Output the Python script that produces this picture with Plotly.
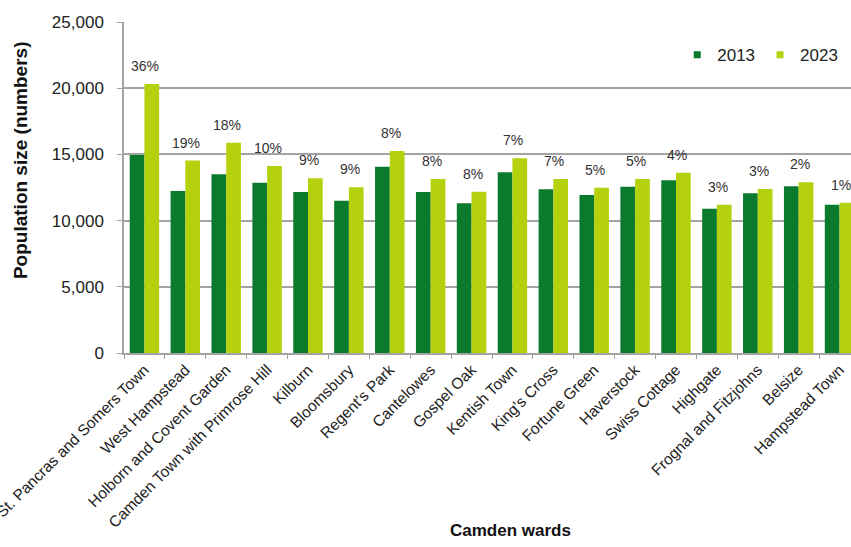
import plotly.graph_objects as go

wards = ["St. Pancras and Somers Town", "West Hampstead", "Holborn and Covent Garden",
         "Camden Town with Primrose Hill", "Kilburn", "Bloomsbury", "Regent's Park",
         "Cantelowes", "Gospel Oak", "Kentish Town", "King's Cross", "Fortune Green",
         "Haverstock", "Swiss Cottage", "Highgate", "Frognal and Fitzjohns", "Belsize",
         "Hampstead Town"]
pop_2013 = [14950, 12240, 13500, 12860, 12160, 11500, 14070, 12160, 11310, 13650,
            12360, 11930, 12560, 13040, 10900, 12060, 12590, 11200]
pop_2023 = [20320, 14530, 15880, 14120, 13200, 12510, 15250, 13140, 12180, 14700,
            13140, 12480, 13140, 13610, 11200, 12390, 12890, 11350]
pct_change = ["36%", "19%", "18%", "10%", "9%", "9%", "8%", "8%", "8%", "7%",
              "7%", "5%", "5%", "4%", "3%", "3%", "2%", "1%"]

DARK = "#0b7a2c"
LIGHT = "#b5d00d"
GRID = "#a3a3a3"
FONT = "Liberation Sans, Arial, sans-serif"

fig = go.Figure()
fig.add_trace(go.Bar(x=wards, y=pop_2013, name="2013", marker_color=DARK,
                     marker_line_width=0, showlegend=False))
fig.add_trace(go.Bar(x=wards, y=pop_2023, name="2023", marker_color=LIGHT,
                     marker_line_width=0, showlegend=False))
# legend entries with small square symbols
for name, col in [("2013", DARK), ("2023", LIGHT)]:
    fig.add_trace(go.Scatter(x=[None], y=[None], mode="markers", name=name,
                             marker=dict(symbol="square", size=7, color=col)))

for w, v, p in zip(wards, pop_2023, pct_change):
    fig.add_annotation(x=w, y=v, text=p, showarrow=False, yshift=18, xshift=1,
                       font=dict(size=14, color="#333333", family=FONT))

fig.add_annotation(text="<b>Population size (numbers)</b>", xref="paper", yref="paper",
                   x=-0.143, y=0.583, textangle=-90, showarrow=False,
                   xanchor="center", yanchor="middle",
                   font=dict(size=19, color="#111111", family=FONT))
fig.add_annotation(text="<b>Camden wards</b>", xref="paper", yref="paper",
                   x=0.531, y=-0.535, showarrow=False,
                   xanchor="center", yanchor="middle",
                   font=dict(size=17, color="#111111", family=FONT))

fig.update_layout(
    width=851, height=547,
    margin=dict(l=124, r=0, t=22, b=194, autoexpand=False),
    paper_bgcolor="white", plot_bgcolor="white",
    barmode="group", bargap=0.28, bargroupgap=0,
    font=dict(family=FONT, color="#222222"),
    legend=dict(orientation="h", x=0.761, y=0.900, xanchor="left", yanchor="middle",
                font=dict(size=17, color="#222222", family=FONT),
                bgcolor="rgba(0,0,0,0)", itemwidth=30),
    xaxis=dict(range=[-0.5, 17.28], automargin=False, tickangle=-45,
               tickfont=dict(size=15.5, color="#222222", family=FONT),
               showline=True, linecolor=GRID, linewidth=1.5,
               ticks="outside", tickson="boundaries", ticklen=4, tickcolor=GRID,
               showgrid=False),
    yaxis=dict(range=[0, 25000], automargin=False, tickvals=[0, 5000, 10000, 15000, 20000, 25000],
               tickformat=",d", tickfont=dict(size=17, color="#222222", family=FONT),
               showline=True, linecolor=GRID, linewidth=1.5,
               ticks="outside", ticklen=5, tickcolor=GRID, ticklabelstandoff=10,
               showgrid=True, gridcolor=GRID, gridwidth=1.5, zeroline=False),
)

fig.write_html("out.html")
